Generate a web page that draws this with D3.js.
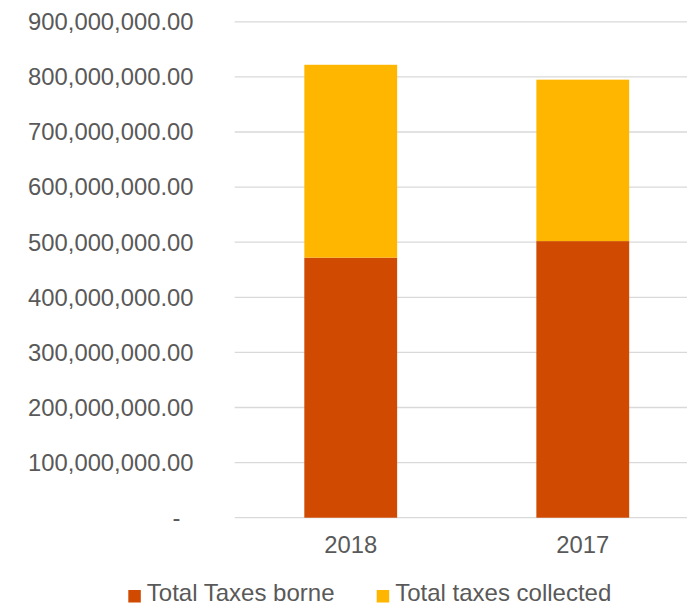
<!DOCTYPE html>
<html>
<head>
<meta charset="utf-8">
<script src="https://cdn.jsdelivr.net/npm/d3@7"></script>
<style>
  html, body { margin: 0; padding: 0; background: #fff; }
  svg { display: block; }
  text { font-family: "Liberation Sans", Arial, sans-serif; fill: #595959; }
</style>
</head>
<body>
<svg id="chart" width="687" height="606"></svg>
<script>
// Years on the category axis
const years = ["2018", "2017"];
// Series values (currency units)
const taxesBorne = [472000000, 502000000];
const taxesCollected = [350000000, 293000000];
// Series names and colours
const seriesNames = ["Total Taxes borne", "Total taxes collected"];
const seriesColors = ["#D04A02", "#FFB600"];
// Value-axis ticks
const yTicks = [0, 100000000, 200000000, 300000000, 400000000, 500000000,
                600000000, 700000000, 800000000, 900000000];

const svg = d3.select("#chart");
const plot = { left: 234.7, right: 698.8, top: 21.8, bottom: 517.7 };

const x = d3.scaleBand()
  .domain(years)
  .range([plot.left, plot.right])
  .paddingInner(0.6)
  .paddingOuter(0.3);

const y = d3.scaleLinear()
  .domain([0, 900000000])
  .range([plot.bottom, plot.top]);

const fmt = d3.format(",.2f");

// Gridlines
svg.append("g")
  .selectAll("line")
  .data(yTicks)
  .join("line")
  .attr("x1", plot.left)
  .attr("x2", plot.right)
  .attr("y1", d => y(d))
  .attr("y2", d => y(d))
  .attr("stroke", "#d9d9d9")
  .attr("stroke-width", 1.3);

// Value-axis labels (zero shown as a dash, accounting style)
svg.append("g")
  .selectAll("text")
  .data(yTicks)
  .join("text")
  .attr("x", d => d === 0 ? 180.5 : 193.5)
  .attr("y", d => y(d))
  .attr("dy", "0.35em")
  .attr("text-anchor", "end")
  .style("font-size", "23.8px")
  .text(d => d === 0 ? "-" : fmt(d));

// Stacked bars
const rows = years.map((yr, i) => ({ year: yr, borne: taxesBorne[i], collected: taxesCollected[i] }));
const stack = d3.stack().keys(["borne", "collected"]);
const layers = stack(rows);

svg.append("g")
  .selectAll("g")
  .data(layers)
  .join("g")
  .attr("fill", (d, i) => seriesColors[i])
  .selectAll("rect")
  .data(d => d)
  .join("rect")
  .attr("x", d => x(d.data.year))
  .attr("width", x.bandwidth())
  .attr("y", d => y(d[1]))
  .attr("height", d => y(d[0]) - y(d[1]));

// Category labels
svg.append("g")
  .selectAll("text")
  .data(years)
  .join("text")
  .attr("x", d => x(d) + x.bandwidth() / 2)
  .attr("y", 553.3)
  .attr("text-anchor", "middle")
  .style("font-size", "23.8px")
  .text(d => d);

// Legend
const legendX = [128.3, 376.7];
const legend = svg.append("g")
  .selectAll("g")
  .data(seriesNames)
  .join("g")
  .attr("transform", (d, i) => `translate(${legendX[i]},0)`);

legend.append("rect")
  .attr("x", 0)
  .attr("y", 590)
  .attr("width", 12.5)
  .attr("height", 12.5)
  .attr("fill", (d, i) => seriesColors[i]);

legend.append("text")
  .attr("x", 18.5)
  .attr("y", 600.5)
  .style("font-size", "24px")
  .text(d => d);
</script>
</body>
</html>
